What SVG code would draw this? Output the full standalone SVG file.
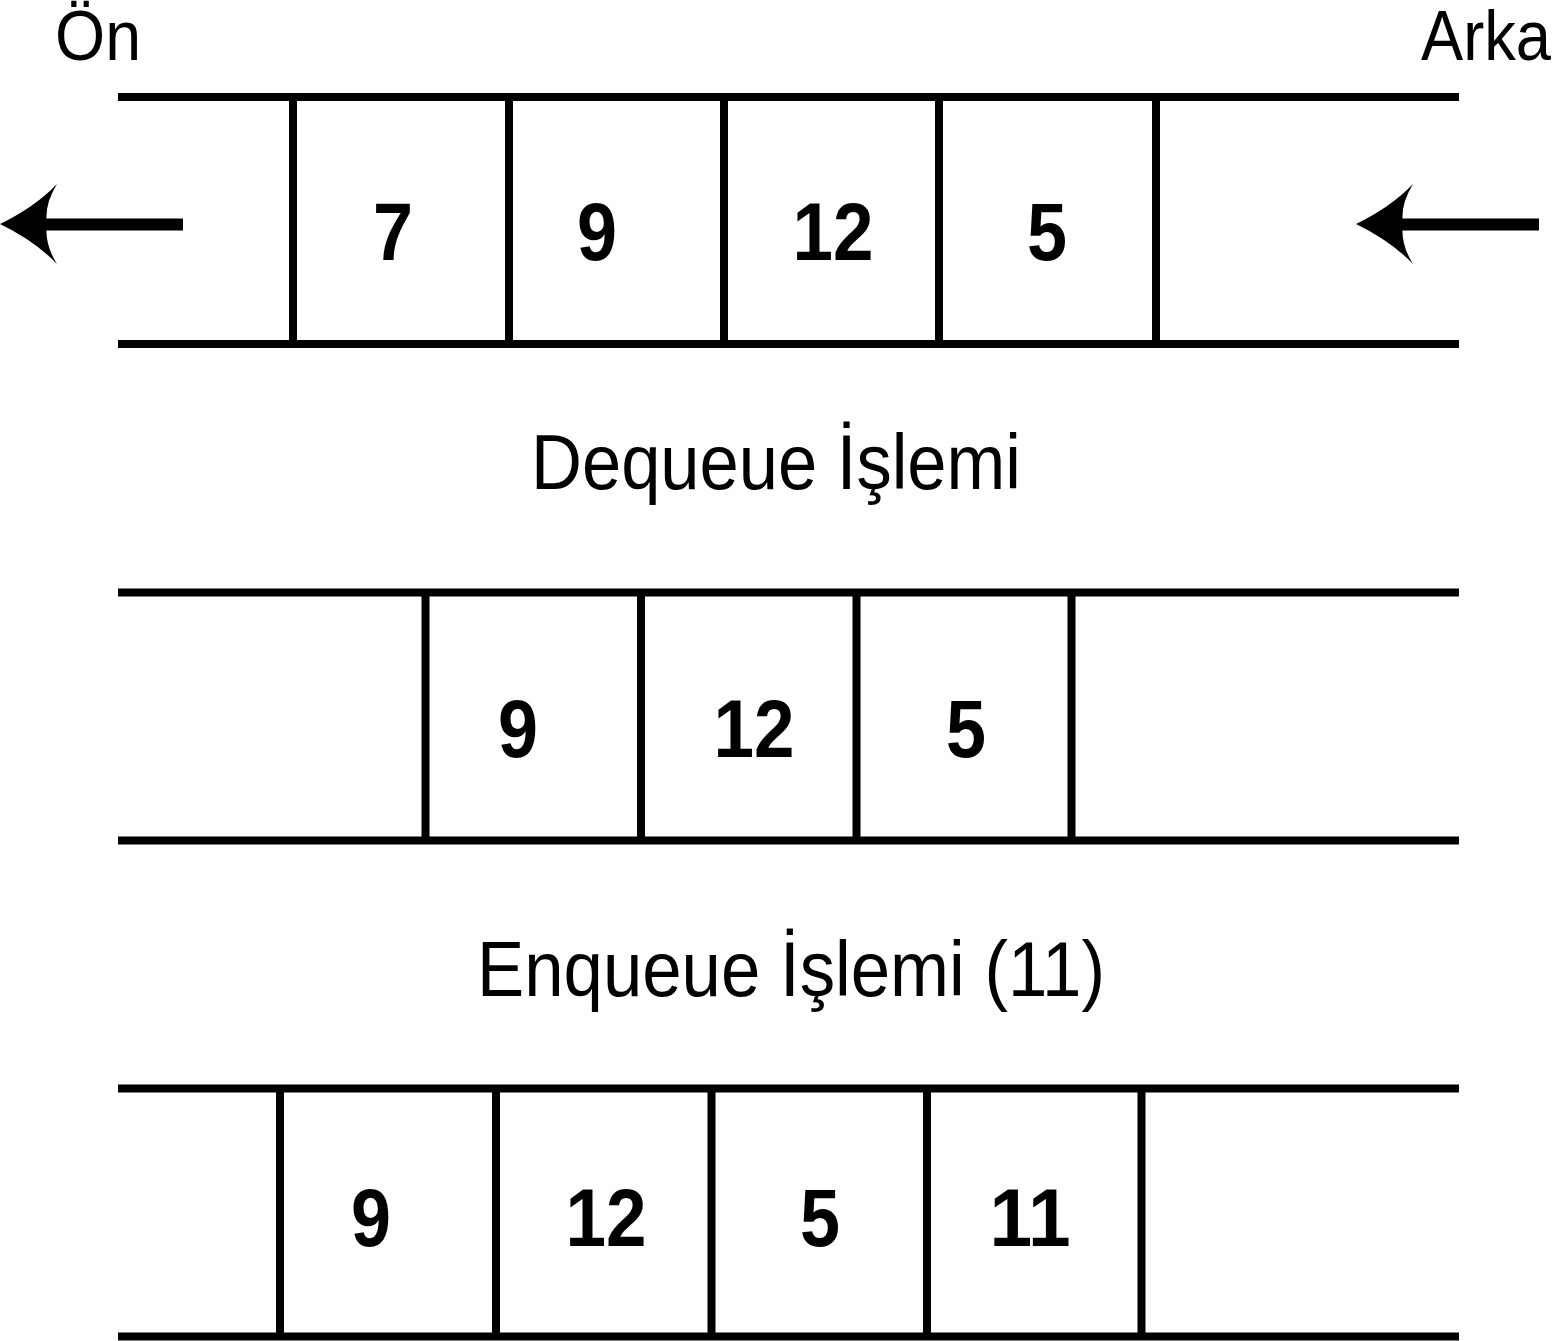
<svg xmlns="http://www.w3.org/2000/svg" xmlns:xlink="http://www.w3.org/1999/xlink" width="1555" height="1341" viewBox="0 0 1555 1341">
  <style>
    .rail { stroke: #000; stroke-width: 8; fill: none; }
    .wall { stroke: #000; stroke-width: 8; fill: none; }
    .num { font-family: "Liberation Sans", Arial, sans-serif; font-weight: bold; font-size: 82px; fill: #000; text-anchor: middle; }
    .lbl { font-family: "Liberation Sans", Arial, sans-serif; font-size: 78px; fill: #000; text-anchor: middle; }
    .end { font-family: "Liberation Sans", Arial, sans-serif; font-size: 71px; fill: #000; }
    .shaft { stroke: #000; stroke-width: 12; fill: none; }
  </style>
  <defs>
    <path id="head" d="M0,224 Q35,207 57,184 Q44,205 47,224 Q44,243 57,264 Q35,241 0,224 Z" fill="#000"/>
  </defs>
  <rect width="1555" height="1341" fill="#fff"/>

  <text class="end" x="55" y="60" textLength="86" lengthAdjust="spacingAndGlyphs">Ön</text>
  <text class="end" x="1551" y="60" text-anchor="end" textLength="130" lengthAdjust="spacingAndGlyphs">Arka</text>

  <!-- Queue 1 -->
  <g id="queue1">
    <line class="rail" x1="118" y1="97" x2="1459" y2="97"/>
    <line class="rail" x1="118" y1="344" x2="1459" y2="344"/>
    <g id="q1-cell-7">
      <line class="wall" x1="293" y1="97" x2="293" y2="344"/>
      <text class="num" x="393" y="260" textLength="40" lengthAdjust="spacingAndGlyphs">7</text>
    </g>
    <g id="q1-cell-9">
      <line class="wall" x1="509" y1="97" x2="509" y2="344"/>
      <text class="num" x="597" y="260" textLength="40" lengthAdjust="spacingAndGlyphs">9</text>
    </g>
    <g id="q1-cell-12">
      <line class="wall" x1="724" y1="97" x2="724" y2="344"/>
      <text class="num" x="833" y="260" textLength="81" lengthAdjust="spacingAndGlyphs">12</text>
    </g>
    <g id="q1-cell-5">
      <line class="wall" x1="939" y1="97" x2="939" y2="344"/>
      <line class="wall" x1="1156" y1="97" x2="1156" y2="344"/>
      <text class="num" x="1047" y="260" textLength="40" lengthAdjust="spacingAndGlyphs">5</text>
    </g>
  </g>

  <text id="label-dequeue" class="lbl" x="776" y="489" textLength="490" lengthAdjust="spacingAndGlyphs">Dequeue İşlemi</text>

  <!-- Queue 2 -->
  <g id="queue2">
    <line class="rail" x1="118" y1="592.5" x2="1459" y2="592.5"/>
    <line class="rail" x1="118" y1="840.5" x2="1459" y2="840.5"/>
    <g id="q2-cell-9">
      <line class="wall" x1="425.5" y1="592.5" x2="425.5" y2="840.5"/>
      <text class="num" x="518" y="757" textLength="40" lengthAdjust="spacingAndGlyphs">9</text>
    </g>
    <g id="q2-cell-12">
      <line class="wall" x1="641" y1="592.5" x2="641" y2="840.5"/>
      <text class="num" x="754" y="757" textLength="81" lengthAdjust="spacingAndGlyphs">12</text>
    </g>
    <g id="q2-cell-5">
      <line class="wall" x1="856.5" y1="592.5" x2="856.5" y2="840.5"/>
      <line class="wall" x1="1071.5" y1="592.5" x2="1071.5" y2="840.5"/>
      <text class="num" x="966" y="757" textLength="40" lengthAdjust="spacingAndGlyphs">5</text>
    </g>
  </g>

  <text id="label-enqueue" class="lbl" x="791" y="996" textLength="628" lengthAdjust="spacingAndGlyphs">Enqueue İşlemi (11)</text>

  <!-- Queue 3 -->
  <g id="queue3">
    <line class="rail" x1="118" y1="1088.5" x2="1459" y2="1088.5"/>
    <line class="rail" x1="118" y1="1336.5" x2="1459" y2="1336.5"/>
    <g id="q3-cell-9">
      <line class="wall" x1="280" y1="1088.5" x2="280" y2="1336.5"/>
      <text class="num" x="371" y="1246" textLength="40" lengthAdjust="spacingAndGlyphs">9</text>
    </g>
    <g id="q3-cell-12">
      <line class="wall" x1="496" y1="1088.5" x2="496" y2="1336.5"/>
      <text class="num" x="606" y="1246" textLength="81" lengthAdjust="spacingAndGlyphs">12</text>
    </g>
    <g id="q3-cell-5">
      <line class="wall" x1="711.5" y1="1088.5" x2="711.5" y2="1336.5"/>
      <text class="num" x="820" y="1246" textLength="40" lengthAdjust="spacingAndGlyphs">5</text>
    </g>
    <g id="q3-cell-11">
      <line class="wall" x1="927" y1="1088.5" x2="927" y2="1336.5"/>
      <line class="wall" x1="1141.5" y1="1088.5" x2="1141.5" y2="1336.5"/>
      <text class="num" x="1030" y="1246" textLength="81" lengthAdjust="spacingAndGlyphs">11</text>
    </g>
  </g>

  <!-- Connectors -->
  <g id="connectors">
    <g id="arrow-out">
      <line class="shaft" x1="40" y1="224.5" x2="183" y2="224.5"/>
      <use xlink:href="#head" href="#head"/>
    </g>
    <g id="arrow-in">
      <line class="shaft" x1="1396" y1="224.5" x2="1539" y2="224.5"/>
      <use xlink:href="#head" href="#head" transform="translate(1356,0)"/>
    </g>
  </g>
</svg>
